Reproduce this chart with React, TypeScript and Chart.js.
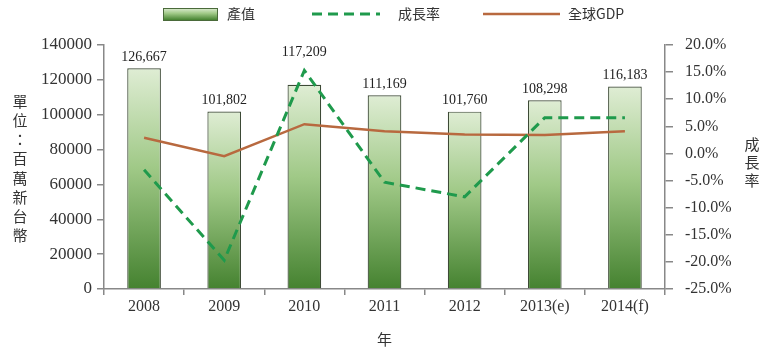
import React, { useEffect, useRef } from "react";
import { Chart, registerables } from "chart.js";

Chart.register(...registerables);

const categories = ["2008", "2009", "2010", "2011", "2012", "2013(e)", "2014(f)"];
const outputValues = [126667, 101802, 117209, 111169, 101760, 108298, 116183];
const growthRates = [-3.0, -19.7, 15.3, -5.3, -8.0, 6.6, 6.6];
const gdpRates = [2.9, -0.5, 5.4, 4.1, 3.5, 3.4, 4.1];
const seriesNames = ["產值", "成長率", "全球GDP"];
const leftTitle = "單位：百萬新台幣";
const rightTitle = "成長率";
const xTitle = "年";

const SERIF = "'Liberation Serif', 'Times New Roman', serif";
const CJK = "'Noto Sans CJK TC', 'Noto Sans CJK SC', sans-serif";
const TEXT = "#333333";
const GREEN_LINE = "#1f9a4c";
const BROWN_LINE = "#b8693f";

function barGradient(c: CanvasRenderingContext2D, top: number, bottom: number) {
  const g = c.createLinearGradient(0, top, 0, bottom);
  g.addColorStop(0, "#dfedd4");
  g.addColorStop(0.45, "#a0c987");
  g.addColorStop(1, "#458230");
  return g;
}

const extrasPlugin = {
  id: "extras",
  afterDatasetsDraw(chart: any) {
    const c: CanvasRenderingContext2D = chart.ctx;
    const meta = chart.getDatasetMeta(0);
    const lineMeta = chart.getDatasetMeta(1);
    c.save();
    c.font = `14px ${SERIF}`;
    c.fillStyle = "#222";
    c.textAlign = "center";
    c.textBaseline = "bottom";
    meta.data.forEach((bar: any, i: number) => {
      let y = bar.y - 4;
      const p = lineMeta.data[i];
      // keep the value label clear of the growth line when it passes above the bar
      if (p && p.y < bar.y + 4 && p.y > bar.y - 24) y = Math.min(y, p.y - 11);
      c.fillText(outputValues[i].toLocaleString("en-US"), bar.x, y);
    });
    c.restore();
  },
  afterDraw(chart: any) {
    const c: CanvasRenderingContext2D = chart.ctx;
    const area = chart.chartArea;
    c.save();
    // Legend
    const ly = 14;
    c.fillStyle = barGradient(c, 8, 20);
    c.fillRect(163, 8, 54, 12);
    c.strokeStyle = "#4a6a3a";
    c.lineWidth = 1;
    c.strokeRect(163.5, 8.5, 54, 12);
    c.font = `14px ${CJK}`;
    c.fillStyle = TEXT;
    c.textBaseline = "middle";
    c.textAlign = "left";
    c.fillText(seriesNames[0], 227, ly);

    c.strokeStyle = GREEN_LINE;
    c.lineWidth = 3;
    c.setLineDash([10, 6]);
    c.beginPath();
    c.moveTo(312, ly);
    c.lineTo(380, ly);
    c.stroke();
    c.setLineDash([]);
    c.fillText(seriesNames[1], 398, ly);

    c.strokeStyle = BROWN_LINE;
    c.lineWidth = 2.5;
    c.beginPath();
    c.moveTo(483, ly);
    c.lineTo(560, ly);
    c.stroke();
    c.fillText(seriesNames[2], 568, ly);

    // Left axis title (stacked)
    c.textAlign = "center";
    c.font = `15px ${CJK}`;
    Array.from(leftTitle).forEach((ch, i) => {
      c.fillText(ch, 20, 101 + i * 19.2);
    });
    // Right axis title (stacked)
    Array.from(rightTitle).forEach((ch, i) => {
      c.fillText(ch, 752, 144 + i * 18);
    });
    // X title
    c.fillText(xTitle, (area.left + area.right) / 2, 339);
    c.restore();
  },
};

export default function App() {
  const ref = useRef<HTMLCanvasElement | null>(null);
  useEffect(() => {
    if (!ref.current) return;
    const chart = new Chart(ref.current, {
      type: "bar",
      data: {
        labels: categories,
        datasets: [
          {
            type: "bar",
            label: seriesNames[0],
            data: outputValues,
            yAxisID: "y",
            order: 3,
            barPercentage: 0.42,
            categoryPercentage: 1,
            borderColor: "#3d4a36",
            borderWidth: 1.2,
            backgroundColor: (ctx: any) => {
              const chart = ctx.chart;
              const area = chart.chartArea;
              if (!area || ctx.type !== "data") return "#8cbf6e";
              const top = chart.scales.y.getPixelForValue(ctx.raw as number);
              return barGradient(chart.ctx, top, area.bottom);
            },
          } as any,
          {
            type: "line",
            label: seriesNames[1],
            data: growthRates,
            yAxisID: "y1",
            order: 1,
            borderColor: GREEN_LINE,
            borderWidth: 3,
            borderDash: [10, 6],
            pointRadius: 0,
            tension: 0,
            fill: false,
          } as any,
          {
            type: "line",
            label: seriesNames[2],
            data: gdpRates,
            yAxisID: "y1",
            order: 2,
            borderColor: BROWN_LINE,
            borderWidth: 2.5,
            pointRadius: 0,
            tension: 0,
            fill: false,
          } as any,
        ],
      },
      options: {
        responsive: false,
        animation: false,
        layout: { padding: { top: 45, left: 0, right: 0, bottom: 0 } },
        plugins: {
          legend: { display: false },
          tooltip: { enabled: false },
        },
        scales: {
          x: {
            offset: true,
            grid: {
              offset: true,
              drawOnChartArea: false,
              drawTicks: true,
              tickLength: 6,
              color: "#888",
              lineWidth: 1.5,
            },
            border: { color: "#888", width: 1.5 },
            ticks: {
              color: TEXT,
              font: { family: SERIF, size: 16 },
              padding: 2,
              maxRotation: 0,
              autoSkip: false,
            },
            afterFit: (s: any) => {
              s.height = 65;
            },
          },
          y: {
            position: "left",
            min: 0,
            max: 140000,
            grid: {
              drawOnChartArea: false,
              drawTicks: true,
              tickLength: 7,
              color: "#888",
              lineWidth: 1.5,
            },
            border: { color: "#888", width: 1.5 },
            ticks: {
              stepSize: 20000,
              color: TEXT,
              font: { family: SERIF, size: 17 },
              padding: 5,
              callback: (v: any) => String(v),
            },
            afterFit: (s: any) => {
              s.width = 104;
            },
          },
          y1: {
            position: "right",
            min: -25,
            max: 20,
            grid: {
              drawOnChartArea: false,
              drawTicks: true,
              tickLength: 8,
              color: "#888",
              lineWidth: 1.5,
            },
            border: { color: "#888", width: 1.5 },
            ticks: {
              stepSize: 5,
              color: TEXT,
              font: { family: SERIF, size: 16 },
              padding: 12,
              callback: (v: any) => Number(v).toFixed(1) + "%",
            },
            afterFit: (s: any) => {
              s.width = 103;
            },
          },
        },
      } as any,
      plugins: [extrasPlugin],
    });
    return () => chart.destroy();
  }, []);
  return (
    <div style={{ position: "fixed", left: 0, top: 0, width: 768, height: 354, background: "#fff" }}>
      <canvas ref={ref} width={768} height={354} style={{ display: "block" }} />
    </div>
  );
}
